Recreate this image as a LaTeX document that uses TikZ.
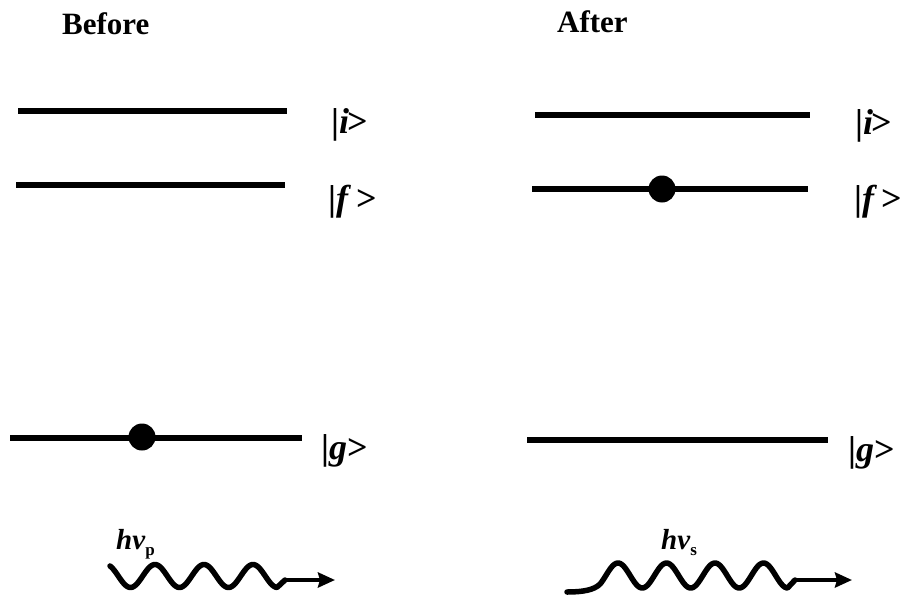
\documentclass[tikz,border=0pt]{standalone}
\usepackage{fontspec}
\setmainfont{Liberation Serif}
\usetikzlibrary{arrows.meta}
\begin{document}
\begin{tikzpicture}[x=1pt,y=-1pt,
  level/.style={line width=6.5pt},
  electron/.style={circle,fill=black,draw=none,inner sep=0pt,minimum size=27pt},
  heading/.style={anchor=base west,inner sep=0pt,font=\fontsize{31}{37}\selectfont\bfseries},
  ketlabel/.style={anchor=base west,inner sep=0pt,font=\fontsize{36}{43}\selectfont\bfseries},
  photonlabel/.style={anchor=base west,inner sep=0pt,font=\fontsize{29}{34}\selectfont\bfseries},
  wave/.style={line width=5.5pt,line cap=round,line join=round},
  ray/.style={line width=4pt,-{Stealth[length=17pt,width=15pt,inset=2pt]}}
]
\useasboundingbox (0,0) rectangle (905,602);

% headings
\node[heading] (before) at (62,35) {Before};
\node[heading] (after) at (557,33) {After};

% Before levels
\coordinate (bia) at (18,111);  \coordinate (bib) at (287,111);
\coordinate (bfa) at (16,185);  \coordinate (bfb) at (285,185);
\coordinate (bga) at (10,438);  \coordinate (bgb) at (302,438);
\draw[level] (bia) -- (bib);
\draw[level] (bfa) -- (bfb);
\draw[level] (bga) -- (bgb);
\node[electron] (bdot) at (142,437) {};

% After levels
\coordinate (aia) at (535,115); \coordinate (aib) at (810,115);
\coordinate (afa) at (532,189); \coordinate (afb) at (808,189);
\coordinate (aga) at (527,440); \coordinate (agb) at (828,440);
\draw[level] (aia) -- (aib);
\draw[level] (afa) -- (afb);
\draw[level] (aga) -- (agb);
\node[electron] (adot) at (662,189) {};

% ket labels
\node[ketlabel] (ki1) at (331,133) {|\textit{i}\kern-2pt>};
\node[ketlabel] (kf1) at (328,210) {|\textit{f}\kern5pt>};
\node[ketlabel] (kg1) at (321,459) {|\textit{g}>};
\node[ketlabel] (ki2) at (855,134) {|\textit{i}\kern-2pt>};
\node[ketlabel] (kf2) at (854,210) {|\textit{f}\kern4pt>};
\node[ketlabel] (kg2) at (848,461) {|\textit{g}>};

% photon labels
\node[photonlabel] (hp) at (116,549) {\textit{hν}\raisebox{-6pt}{\fontsize{17}{20}\selectfont p}};
\node[photonlabel] (hs) at (661,549) {\textit{hν}\raisebox{-6pt}{\fontsize{17}{20}\selectfont s}};

% pump photon
\coordinate (pstart) at (285,580);
\coordinate (pend) at (335,580);
\draw[wave] plot[domain=110:277,samples=120] (\x,{576-11.5*cos(7.347*(\x-155))}) -- (pstart);
\draw[ray] (pstart) -- (pend);

% scattered photon
\coordinate (sstart) at (795,580);
\coordinate (send) at (852,580);
\draw[wave] (567,592) .. controls (583,592) and (594,590) .. (600,584.1)
  -- plot[domain=600:787.5,samples=140] (\x,{575.5-12.5*cos(7.4227*(\x-618))}) -- (sstart);
\draw[ray] (sstart) -- (send);
\end{tikzpicture}
\end{document}
